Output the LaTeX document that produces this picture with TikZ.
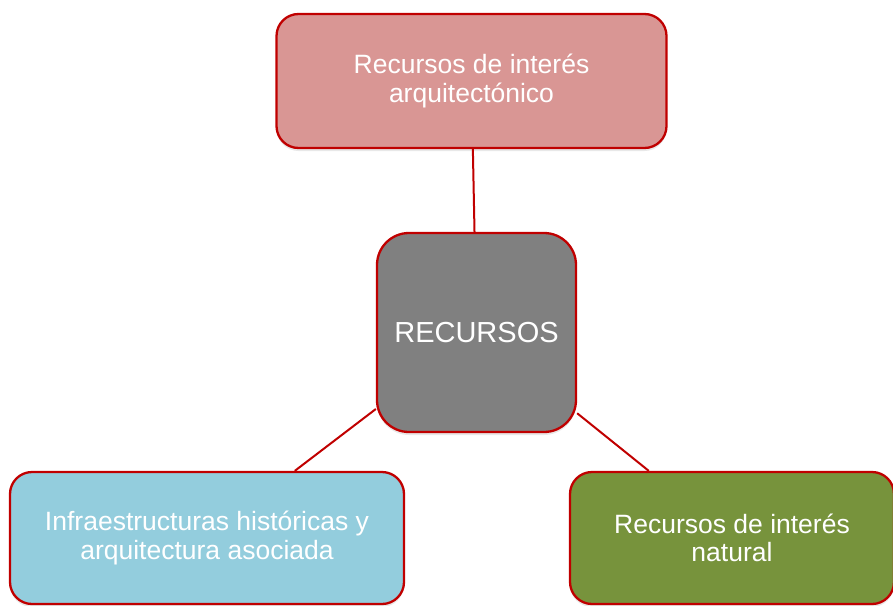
\documentclass[tikz,border=0pt]{standalone}
\usepackage{fontspec}
\setmainfont{Liberation Sans}
\usepackage{xcolor}
\usepackage{tikz}
\usetikzlibrary{
	shadows,
	shapes,
}
\definecolor{borderred}{RGB}{192, 0, 0}
\definecolor{archfill}{RGB}{217, 150, 148}
\definecolor{corefill}{RGB}{128, 128, 128}
\definecolor{infrafill}{RGB}{147, 205, 221}
\definecolor{naturefill}{RGB}{119, 147, 60}

\begin{document}
\begin{tikzpicture}[x=1pt, y=-1pt,
	box/.style={draw=borderred, line width=2.3pt, rectangle, rounded corners=22pt,
		text=white, align=center, font=\fontsize{26.5}{28.5}\selectfont,
		inner sep=0pt, drop shadow={opacity=0.18, shadow xshift=0pt, shadow yshift=-3pt}},
	link/.style={draw=borderred, line width=2pt}]
% page
\useasboundingbox (0,0) rectangle (893,605);
% centre
\node[box, fill=corefill, minimum width=199pt, minimum height=199pt, rounded corners=32pt,
	font=\fontsize{29}{32}\selectfont] (core) at (476.5,332.5) {RECURSOS};
% top
\node[box, fill=archfill, minimum width=390pt, minimum height=134pt] (arch) at (471.5,81)
	{Recursos de interés\\arquitectónico};
% bottom left
\node[box, fill=infrafill, minimum width=394pt, minimum height=132pt] (infra) at (207,538)
	{Infraestructuras históricas y\\arquitectura asociada};
% bottom right
\node[box, fill=naturefill, minimum width=324pt, minimum height=132pt] (nature) at (732,538)
	{Recursos de interés\\natural};
% links
\draw[link] (arch) -- (core);
\draw[link] (core) -- (infra);
\draw[link] (core) -- (nature);
\end{tikzpicture}
\end{document}
